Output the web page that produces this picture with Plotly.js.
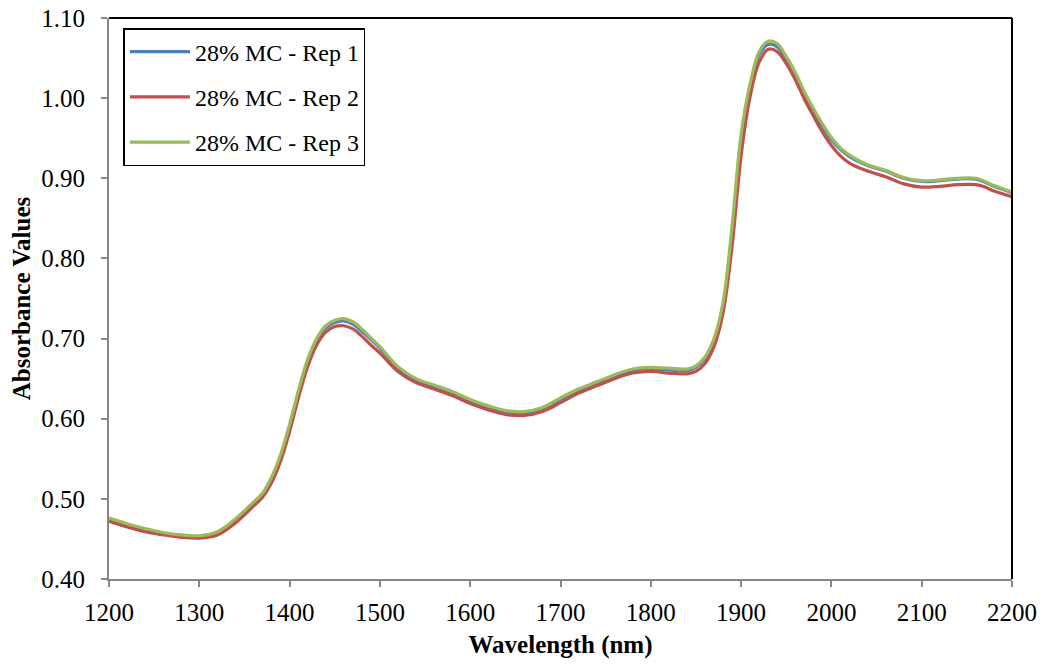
<!DOCTYPE html>
<html>
<head>
<meta charset="utf-8">
<script src="https://cdn.plot.ly/plotly-3.0.1.min.js"></script>
<style>html,body{margin:0;padding:0;background:#fff;}#chart{width:1043px;height:664px;}</style>
</head>
<body>
<div id="chart"></div>
<script>
const wavelength = [1200,1220,1240,1260,1280,1300,1320,1340,1360,1370,1380,1390,1400,1410,1420,1430,1440,1450,1460,1470,1480,1490,1500,1520,1540,1560,1580,1600,1620,1640,1660,1680,1700,1720,1740,1760,1780,1800,1820,1840,1850,1860,1870,1880,1890,1900,1910,1920,1930,1940,1950,1960,1970,1980,1990,2000,2010,2020,2040,2060,2080,2100,2120,2140,2160,2170,2180,2200];

const rep3 = [0.476,0.469,0.463,0.458,0.455,0.454,0.459,0.475,0.496,0.507,0.527,0.555,0.593,0.636,0.674,0.700,0.716,0.723,0.725,0.721,0.712,0.701,0.690,0.665,0.650,0.642,0.634,0.624,0.616,0.610,0.609,0.614,0.626,0.637,0.646,0.655,0.662,0.664,0.663,0.662,0.666,0.677,0.700,0.745,0.840,0.955,1.018,1.058,1.071,1.068,1.052,1.032,1.008,0.987,0.968,0.951,0.938,0.929,0.917,0.910,0.901,0.897,0.898,0.900,0.900,0.896,0.891,0.883];

const rep1 = [0.475,0.468,0.462,0.457,0.454,0.453,0.458,0.474,0.495,0.506,0.525,0.553,0.591,0.634,0.672,0.697,0.713,0.720,0.722,0.718,0.709,0.699,0.688,0.663,0.648,0.640,0.632,0.622,0.614,0.608,0.607,0.612,0.624,0.635,0.644,0.653,0.660,0.662,0.661,0.660,0.664,0.675,0.697,0.741,0.834,0.948,1.013,1.054,1.067,1.064,1.049,1.029,1.005,0.984,0.965,0.948,0.936,0.927,0.916,0.909,0.900,0.896,0.897,0.899,0.899,0.895,0.890,0.882];

const rep2 = [0.472,0.465,0.459,0.455,0.452,0.451,0.455,0.470,0.491,0.502,0.520,0.547,0.584,0.627,0.665,0.692,0.708,0.715,0.716,0.712,0.703,0.692,0.682,0.659,0.645,0.637,0.629,0.619,0.611,0.605,0.604,0.609,0.620,0.632,0.641,0.650,0.657,0.659,0.657,0.656,0.659,0.669,0.690,0.732,0.815,0.928,1.002,1.045,1.061,1.058,1.043,1.023,0.999,0.978,0.958,0.941,0.928,0.919,0.909,0.902,0.893,0.889,0.890,0.892,0.892,0.889,0.884,0.877];

const seriesNames = ["28% MC - Rep 1","28% MC - Rep 2","28% MC - Rep 3"];
const seriesColors = ["#4F81BD","#C0504D","#9BBB59"];
const xTicks = [1200,1300,1400,1500,1600,1700,1800,1900,2000,2100,2200];
const yTicks = [0.4,0.5,0.6,0.7,0.8,0.9,1.0,1.1];

const values = [rep1, rep2, rep3];
const traces = values.map((v, i) => ({
  x: wavelength, y: v, type: 'scatter', mode: 'lines',
  name: seriesNames[i], legendgroup: 'g' + i,
  line: {color: seriesColors[i], width: 3.2, shape: 'spline', smoothing: 1}
}));

const font = '"Liberation Serif", "Times New Roman", Times, serif';
const layout = {
  width: 1043, height: 664,
  margin: {l: 109, r: 31, t: 18, b: 85},
  paper_bgcolor: '#fff', plot_bgcolor: '#fff',
  font: {family: font, color: '#000', size: 24},
  showlegend: true,
  legend: {
    x: 0.016, y: 0.982, xanchor: 'left', yanchor: 'top',
    bordercolor: '#000', borderwidth: 1.5, bgcolor: '#fff',
    font: {family: font, size: 24, color: '#000'},
    tracegroupgap: 11, itemwidth: 60
  },
  xaxis: {
    range: [1200, 2200], tickvals: xTicks, ticktext: xTicks.map(String),
    showgrid: false, zeroline: false, showline: true, linecolor: '#868686', linewidth: 2,
    ticks: 'outside', ticklen: 6, tickcolor: '#868686', tickwidth: 2, ticklabelstandoff: 4,
    tickfont: {family: font, size: 25, color: '#000'},
    title: {text: '<b>Wavelength (nm)</b>', font: {family: font, size: 25, color: '#000'}, standoff: 10}
  },
  yaxis: {
    range: [0.4, 1.1], tickvals: yTicks, ticktext: yTicks.map(v => v.toFixed(2)),
    showgrid: false, zeroline: false, showline: true, linecolor: '#868686', linewidth: 2,
    ticks: 'outside', ticklen: 6, tickcolor: '#868686', tickwidth: 2, ticklabelstandoff: 11,
    tickfont: {family: font, size: 25, color: '#000'},
    title: {text: '<b>Absorbance Values</b>', font: {family: font, size: 25, color: '#000'}, standoff: 4}
  },
  shapes: [
    {type: 'line', xref: 'paper', yref: 'paper', x0: 0, x1: 1, y0: 1, y1: 1, line: {color: '#000', width: 2}},
    {type: 'line', xref: 'paper', yref: 'paper', x0: 1, x1: 1, y0: 0, y1: 1, line: {color: '#000', width: 2}}
  ]
};

Plotly.newPlot('chart', traces, layout, {displayModeBar: false, staticPlot: true});
</script>
</body>
</html>
